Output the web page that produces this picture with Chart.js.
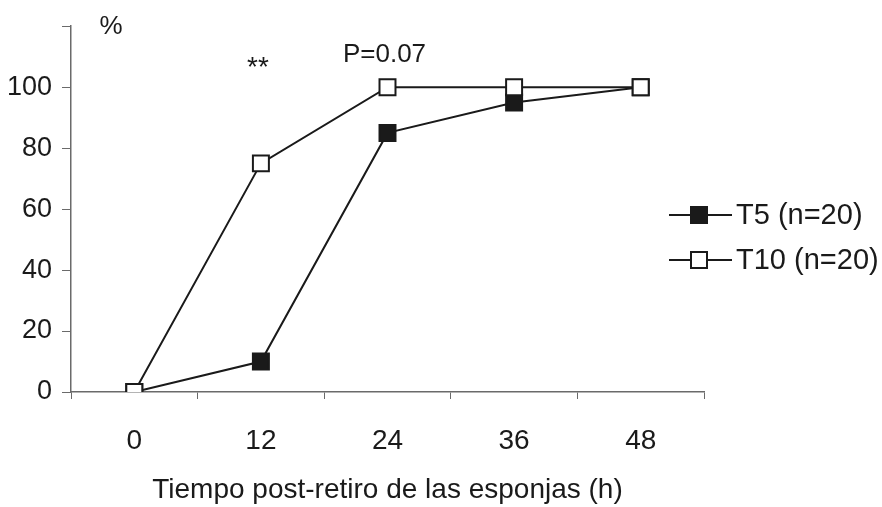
<!DOCTYPE html>
<html>
<head>
<meta charset="utf-8">
<script src="https://cdn.jsdelivr.net/npm/chart.js@4/dist/chart.umd.min.js"></script>
<style>
  html, body { margin: 0; padding: 0; background: #fff; }
</style>
</head>
<body>
<canvas id="myChart" width="882" height="507"></canvas>
<script>
// values (% per time point)
var hours = ['0', '12', '24', '36', '48'];
var t5 = [0, 10, 85, 95, 100];
var t10 = [0, 75, 100, 100, 100];
var yTicks = [0, 20, 40, 60, 80, 100];
var seriesNames = ['T5 (n=20)', 'T10 (n=20)'];
var noteHours = ['12', '24'];
var noteTexts = ['**', 'P=0.07'];

var ink = '#1a1a1a';
var axisInk = '#6a6a6a';
var fontName = "'Liberation Sans', Arial, sans-serif";

// % label, significance marks and the legend on the right
var extras = {
    id: 'extras',
    afterDraw: function(c) {
        var ctx = c.ctx;
        var xs = c.scales.x;
        ctx.save();
        ctx.fillStyle = ink;
        ctx.textBaseline = 'middle';
        ctx.textAlign = 'center';
        ctx.font = '26px ' + fontName;
        ctx.fillText('%', 111, 27);
        for (var i = 0; i < noteTexts.length; i++) {
            var px = xs.getPixelForValue(hours.indexOf(noteHours[i]));
            var py = noteTexts[i] == '**' ? 68 : 55;
            ctx.font = (noteTexts[i] == '**' ? '28px ' : '26px ') + fontName;
            ctx.fillText(noteTexts[i], px - 3, py);
        }

        ctx.textAlign = 'left';
        ctx.font = '29px ' + fontName;
        c.data.datasets.forEach(function(ds, k) {
            var y = 215 + k * 45;
            ctx.strokeStyle = ink;
            ctx.lineWidth = 2;
            ctx.beginPath();
            ctx.moveTo(669, y);
            ctx.lineTo(732, y);
            ctx.stroke();
            ctx.fillStyle = ds.pointBackgroundColor;
            ctx.fillRect(691, y - 8, 16, 16);
            ctx.strokeRect(691, y - 8, 16, 16);
            ctx.fillStyle = ink;
            ctx.fillText(ds.label, 736, y + 1);
        });
        ctx.restore();
    }
};

var ctx = document.getElementById('myChart').getContext('2d');
var chart = new Chart(ctx, {
    type: 'line',
    data: {
        labels: hours,
        datasets: [
            {
                label: seriesNames[0],
                data: t5,
                order: 1,
                borderColor: ink,
                borderWidth: 2,
                pointStyle: 'rect',
                pointRadius: 11.3,
                pointBorderWidth: 2,
                pointBorderColor: ink,
                pointBackgroundColor: ink,
                tension: 0
            },
            {
                label: seriesNames[1],
                data: t10,
                order: 0,
                borderColor: ink,
                borderWidth: 2,
                pointStyle: 'rect',
                pointRadius: 11.3,
                pointBorderWidth: 2,
                pointBorderColor: ink,
                pointBackgroundColor: '#ffffff',
                tension: 0
            }
        ]
    },
    options: {
        responsive: false,
        animation: false,
        devicePixelRatio: 1,
        layout: { padding: { top: 21, right: 178, bottom: 0, left: 0 } },
        plugins: {
            legend: { display: false },
            tooltip: { enabled: false }
        },
        scales: {
            x: {
                offset: true,
                grid: { offset: true, drawOnChartArea: false, tickLength: 7, color: axisInk },
                border: { color: axisInk, width: 1.5 },
                ticks: { padding: 25, color: ink, font: { family: fontName, size: 28 } },
                title: {
                    display: true,
                    text: 'Tiempo post-retiro de las esponjas (h)',
                    color: ink,
                    font: { family: fontName, size: 28 },
                    padding: { top: 0, bottom: 0 }
                },
                afterFit: function(s) { s.height = 115; }
            },
            y: {
                min: 0,
                max: 120,
                grid: { drawOnChartArea: false, tickLength: 9, color: axisInk },
                border: { color: axisInk, width: 1.5 },
                ticks: {
                    stepSize: 20,
                    padding: 10,
                    color: ink,
                    font: { family: fontName, size: 27 },
                    callback: function(v) { return yTicks.indexOf(v) >= 0 ? v : ''; }
                },
                afterFit: function(s) { s.width = 71; }
            }
        }
    },
    plugins: [extras]
});
</script>
</body>
</html>
